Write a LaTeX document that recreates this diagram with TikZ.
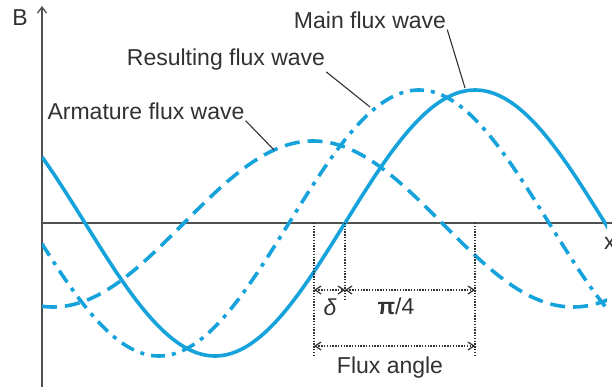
\documentclass[tikz,border=0pt]{standalone}
\usepackage{fontspec}
\setmainfont{Liberation Sans}
\usetikzlibrary{arrows.meta}
\definecolor{wave}{RGB}{22,163,219}
\definecolor{axisgray}{RGB}{80,80,80}
\definecolor{txt}{RGB}{50,50,50}
\begin{document}
\begin{tikzpicture}[x=1pt,y=-1pt,
  wavestyle/.style={draw=wave, line width=3.6pt},
  axisline/.style={draw=axisgray, line width=1.3pt},
  leader/.style={draw=txt, line width=1.1pt},
  dimline/.style={draw=txt, line width=1.2pt, dash pattern=on 1.4pt off 1.4pt},
  dimarrow/.style={dimline, {Straight Barb[length=6pt,width=8pt]}-{Straight Barb[length=6pt,width=8pt]}},
  lab/.style={font=\fontsize{23}{27}\selectfont, text=txt, inner sep=0pt},
]
\useasboundingbox (0,0) rectangle (612,387);
\fill[white] (0,0) rectangle (612,387);

% axes
\coordinate (O) at (42,223);
\coordinate (ytop) at (42,6);
\coordinate (ybot) at (42,387);
\coordinate (xend) at (614,223);
\draw[axisline, -{Straight Barb[length=6pt,width=9pt]}] (ybot) -- (ytop);
\draw[axisline] (O) -- (xend);
\node[lab] (B) at (20,18) {B};
\node[lab, anchor=west] (X) at (604,243) {x};

% waves
\begin{scope}
\clip (42,0) rectangle (607,387);
\draw[wavestyle] plot[domain=42:612, samples=200, smooth] (\x,{223-133*sin(0.692308*(\x-345))});
\draw[wavestyle, dash pattern=on 14pt off 7pt on 4pt off 7pt] plot[domain=42:612, samples=200, smooth] (\x,{223-133*sin(0.692308*(\x-289))});
\draw[wavestyle, dash pattern=on 15pt off 8pt] plot[domain=42:612, samples=200, smooth] (\x,{224-83*sin(0.692308*(\x-183))});
\end{scope}

% labels and leaders
\node[lab] (main) at (370,20) {Main flux wave};
\node[lab] (res) at (226,60) {Resulting flux wave};
\node[lab] (arm) at (146,111) {Armature flux wave};
\coordinate (mainEnd) at (465,88);
\coordinate (resEnd) at (370,107);
\coordinate (armEnd) at (274,150);
\draw[leader] ([xshift=1pt,yshift=-1pt]main.south east) -- (mainEnd);
\draw[leader] ([xshift=1pt,yshift=-1pt]res.south east) -- (resEnd);
\draw[leader] ([xshift=1pt,yshift=-1pt]arm.south east) -- (armEnd);

% dimension lines
\coordinate (d1t) at (314,223);
\coordinate (d1b) at (314,357);
\coordinate (d2t) at (345,223);
\coordinate (d2b) at (345,300);
\coordinate (d3t) at (475,223);
\coordinate (d3b) at (475,357);
\draw[dimline] (d1t) -- (d1b);
\draw[dimline] (d2t) -- (d2b);
\draw[dimline] (d3t) -- (d3b);
\coordinate (a1) at (314,290);
\coordinate (a2) at (345,290);
\coordinate (a3) at (475,290);
\coordinate (b1) at (314,346);
\coordinate (b3) at (475,346);
\draw[dimarrow] (a1) -- (a2);
\draw[dimarrow] (a2) -- (a3);
\draw[dimarrow] (b1) -- (b3);
\node[lab] (delta) at (330,307) {\itshape δ};
\node[lab] (pi4) at (396,306) {{\bfseries π}/4};
\node[lab] (flux) at (390,368) {Flux angle};
\end{tikzpicture}
\end{document}
